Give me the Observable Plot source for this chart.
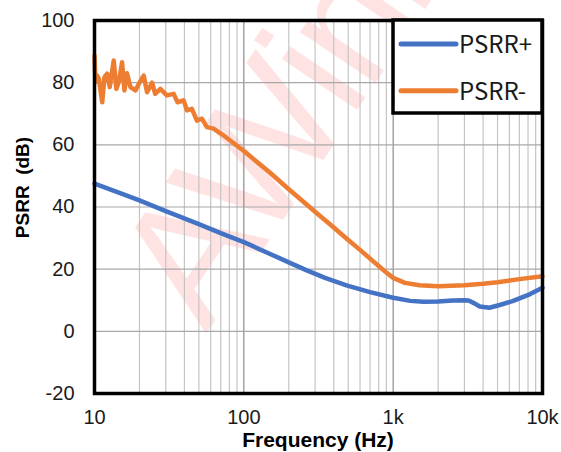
<!DOCTYPE html>
<html><head><meta charset="utf-8">
<script src="https://cdn.jsdelivr.net/npm/d3@7"></script>
<script src="https://cdn.jsdelivr.net/npm/@observablehq/plot@0.6"></script>
<style>
body{margin:0;background:#fff}
svg text{white-space:pre}
</style>
</head><body><div id="chart"></div>
<script>
// PSRR+ (blue)
const plusFreq = [10, 15, 20, 30, 50, 70, 100, 150, 200, 264, 350, 487, 700, 1000, 1300, 1600, 2000, 2500, 3000, 3200, 3500, 3800, 4400, 5100, 6300, 8200, 10000];
const plusDb   = [47.5, 44.4, 42.1, 38.7, 34.5, 31.6, 28.7, 24.9, 22.2, 19.6, 17.2, 14.8, 12.6, 10.8, 9.8, 9.5, 9.6, 9.9, 10.0, 9.9, 9.0, 8.0, 7.6, 8.4, 9.7, 11.9, 14.0];
// PSRR- (orange)
const minusFreq = [10, 10.15, 10.4, 10.7, 11.26, 11.66, 12.16, 12.66, 13.45, 14.0, 14.6, 15.3, 15.86, 16.5, 17.4, 18.8, 19.8, 21.35, 22.5, 24.3, 25.5, 27.6, 30.5, 33.9, 36, 39.5, 41.6, 44.9, 48.5, 52.4, 56.6, 62.6, 73.2, 81, 100, 150, 200, 300, 400, 500, 600, 700, 800, 900, 1000, 1200, 1500, 2000, 3000, 4000, 5000, 7000, 10000];
const minusDb   = [88.7, 80.2, 82.3, 81.2, 73.7, 81.8, 82.9, 78.6, 87.1, 78.0, 80.5, 86.6, 77.5, 83.0, 78.6, 77.5, 79.6, 82.3, 76.9, 80.0, 76.4, 78.0, 75.9, 76.4, 73.7, 74.3, 71.1, 71.6, 67.8, 68.4, 65.7, 65.2, 63.0, 61.4, 58.0, 51.0, 45.7, 38.5, 33.4, 29.4, 26.2, 23.4, 21.0, 18.9, 17.2, 15.6, 14.8, 14.5, 14.8, 15.3, 15.8, 16.8, 17.7];

const seriesNames = ["PSRR+", "PSRR-"];
const seriesColors = ["#4472C4", "#ED7D31"];
const xTickValues = [10, 100, 1000, 10000];
const xTickLabels = ["10", "100", "1k", "10k"];
const yTickValues = [-20, 0, 20, 40, 60, 80, 100];
const minorGridValues = [20,30,40,50,60,70,80,90,200,300,400,500,600,700,800,900,2000,3000,4000,5000,6000,7000,8000,9000];
const xTitle = "Frequency (Hz)";
const yTitle = "PSRR  (dB)";
const watermarkText = "AWinic";

const plus = plusFreq.map((f, i) => ({f, v: plusDb[i]}));
const minus = minusFreq.map((f, i) => ({f, v: minusDb[i]}));

const W = 561, H = 452, ml = 94, mr = 19, mt = 20, mb = 59;

const chart = Plot.plot({
  width: W, height: H,
  marginLeft: ml, marginRight: mr, marginTop: mt, marginBottom: mb,
  style: {fontFamily: "'Liberation Sans', Arial, sans-serif", background: "#fff", color: "#000", overflow: "visible"},
  x: {type: "log", domain: [10, 10000]},
  y: {domain: [-20, 100]},
  marks: [
    Plot.gridX(minorGridValues, {stroke: "#c4c4c4", strokeOpacity: 1, strokeWidth: 1.2}),
    Plot.gridX(xTickValues, {stroke: "#8c8c8c", strokeOpacity: 1, strokeWidth: 1.2}),
    Plot.gridY(yTickValues, {stroke: "#a8a8a8", strokeOpacity: 1, strokeWidth: 1.2}),
    Plot.axisX(xTickValues, {tickSize: 0, tickPadding: 16, fontSize: 20, fill: "#1a1a1a", label: null,
      tickFormat: d => xTickLabels[xTickValues.indexOf(d)]}),
    Plot.axisY(yTickValues, {tickSize: 0, tickPadding: 20, fontSize: 20, fill: "#1a1a1a", label: null,
      tickFormat: d => String(d)}),
    Plot.line(plus, {x: "f", y: "v", stroke: seriesColors[0], strokeWidth: 4.5}),
    Plot.line(minus, {x: "f", y: "v", stroke: seriesColors[1], strokeWidth: 4.5}),
    Plot.frame({stroke: "#000", strokeWidth: 3.5})
  ]
});

const svg = d3.select(chart);
const font = "'Liberation Sans', Arial, sans-serif";
// watermark behind everything
svg.insert("text", "g")
  .attr("transform", "translate(206,334) rotate(-56)")
  .attr("text-anchor", "start")
  .attr("font-family", font)
  .attr("font-size", 172)
  .attr("letter-spacing", -6)
  .attr("fill", "#ff0000")
  .attr("fill-opacity", 0.11)
  .text(watermarkText);

// axis titles
svg.append("text")
  .attr("x", (ml + W - mr) / 2).attr("y", 447)
  .attr("text-anchor", "middle")
  .attr("font-family", font).attr("font-size", 21).attr("font-weight", "bold").attr("fill", "#000")
  .text(xTitle);
svg.append("text")
  .attr("transform", "translate(28.5,187.5) rotate(-90)")
  .attr("text-anchor", "middle")
  .attr("font-family", font).attr("font-size", 19).attr("font-weight", "bold").attr("fill", "#000")
  .text(yTitle);

// legend
const right = W - mr;
const lg = svg.append("g");
lg.append("rect").attr("x", right - 149).attr("y", mt).attr("width", 149).attr("height", 93)
  .attr("fill", "#fff").attr("stroke", "#000").attr("stroke-width", 3.5);
seriesNames.forEach((name, i) => {
  const cy = mt + 24 + i * 46.7;
  lg.append("line").attr("x1", right - 141).attr("x2", right - 86).attr("y1", cy).attr("y2", cy)
    .attr("stroke", seriesColors[i]).attr("stroke-width", 5).attr("stroke-linecap", "round");
  lg.append("text").attr("x", right - 83).attr("y", cy + 9)
    .attr("text-anchor", "start")
    .attr("font-family", "'Noto Sans CJK SC', 'Noto Sans', sans-serif").attr("font-size", 24)
    .attr("fill", "#1a1a1a").text(name);
});

document.getElementById("chart").appendChild(chart);
</script>
</body></html>
